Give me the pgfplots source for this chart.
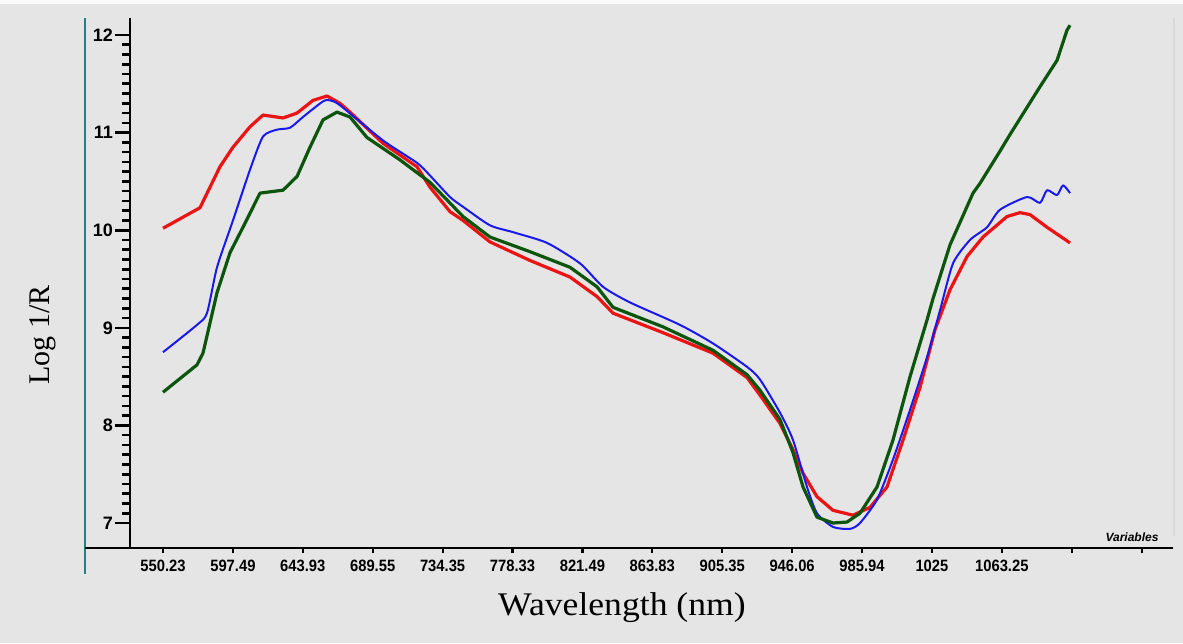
\documentclass[border=0pt]{standalone}
\usepackage{fontspec}
\setmainfont{Liberation Serif}
\newfontfamily\arialfont{Liberation Sans}
\usepackage{pgfplots}
\pgfplotsset{compat=1.18}
\definecolor{bg}{RGB}{229,229,229}
\definecolor{tealline}{RGB}{30,130,140}
\definecolor{cred}{RGB}{235,20,20}
\definecolor{cblue}{RGB}{25,25,235}
\definecolor{cgreen}{RGB}{12,85,12}

\begin{document}
\begin{tikzpicture}
\fill[bg] (0,0) rectangle (591.5pt,-321.5pt);
\fill[white!96!gray] (0,0) rectangle (591.5pt,-2pt);
\draw[tealline, line width=1pt] (42.5pt,-9pt) -- (42.5pt,-287pt);
\draw[black!15, line width=0.6pt] (587pt,-9pt) -- (587pt,-268pt);
\draw[black, line width=1pt] (42.5pt,-274pt) -- (65pt,-274pt);
% minor y ticks
\begin{axis}[at={(65pt,-274pt)}, anchor=south west, scale only axis,
 width=521.5pt, height=265pt,
 xmin=-0.472, xmax=14.449, ymin=6.744, ymax=12.174,
 axis x line=none, axis y line*=left,
 axis line style={-, line width=1pt},
 xtick=\empty,
 ytick={7.1,7.2,7.3,7.4,7.5,7.6,7.7,7.8,7.9,8.1,8.2,8.3,8.4,8.5,8.6,8.7,8.8,8.9,9.1,9.2,9.3,9.4,9.5,9.6,9.7,9.8,9.9,10.1,10.2,10.3,10.4,10.5,10.6,10.7,10.8,10.9,11.1,11.2,11.3,11.4,11.5,11.6,11.7,11.8,11.9},
 yticklabels={},
 tick align=outside, major tick length=4pt,
 tick style={black, line width=1.3pt}]
\end{axis}
\begin{axis}[at={(65pt,-274pt)}, anchor=south west, scale only axis,
 width=521.5pt, height=265pt,
 xmin=-0.472, xmax=14.449, ymin=6.744, ymax=12.174,
 axis x line*=bottom, axis y line*=left,
 axis line style={-, line width=1pt},
 xtick=\empty, ytick={7,8,9,10,11,12},
 tick align=outside, major tick length=7.5pt,
 tick style={black, line width=1.3pt},
 yticklabel style={font=\arialfont\bfseries\fontsize{9}{10}\selectfont, xshift=2.5pt},
 /pgf/number format/assume math mode=true,
 clip=false]
\addplot[cred, line width=1.6pt, line join=round] table {
x y
0 10.02
0.529 10.23
0.815 10.65
1.001 10.85
1.245 11.06
1.431 11.18
1.717 11.15
1.917 11.20
2.146 11.33
2.346 11.375
2.532 11.30
2.675 11.21
3.147 10.89
3.634 10.65
3.820 10.44
4.106 10.19
4.292 10.10
4.678 9.88
5.250 9.69
5.823 9.52
6.209 9.32
6.438 9.15
7.153 8.95
7.868 8.74
8.355 8.49
8.541 8.31
8.827 8.02
9.013 7.75
9.156 7.51
9.356 7.27
9.585 7.13
9.871 7.08
10.114 7.16
10.358 7.37
10.587 7.85
10.830 8.39
11.044 8.98
11.259 9.39
11.502 9.73
11.731 9.93
12.074 10.14
12.260 10.18
12.403 10.16
12.647 10.03
12.976 9.87
};
\addplot[cblue, line width=1pt, line join=round, smooth, tension=0.4] table {
x y
0 8.75
0.486 9.03
0.629 9.15
0.773 9.62
1.001 10.10
1.245 10.62
1.431 10.96
1.631 11.03
1.817 11.05
2.003 11.16
2.289 11.32
2.389 11.33
2.532 11.28
3.147 10.92
3.634 10.69
3.820 10.56
4.106 10.34
4.292 10.24
4.678 10.05
5.007 9.98
5.494 9.87
5.966 9.66
6.295 9.42
6.681 9.26
7.396 9.03
7.868 8.84
8.355 8.60
8.541 8.47
8.827 8.13
9.013 7.85
9.213 7.37
9.356 7.10
9.585 6.96
9.828 6.94
9.971 7.00
10.215 7.24
10.443 7.65
10.687 8.16
10.930 8.70
11.116 9.18
11.302 9.66
11.545 9.90
11.788 10.03
11.974 10.21
12.361 10.34
12.546 10.28
12.647 10.41
12.790 10.36
12.876 10.46
12.976 10.38
};
\addplot[cgreen, line width=1.6pt, line join=round] table {
x y
0 8.34
0.486 8.62
0.572 8.74
0.773 9.36
0.959 9.77
1.144 10.03
1.388 10.38
1.717 10.41
1.917 10.55
2.103 10.85
2.289 11.13
2.489 11.21
2.675 11.16
2.918 10.95
3.391 10.72
3.820 10.49
4.292 10.14
4.678 9.93
5.250 9.78
5.823 9.62
6.209 9.42
6.438 9.21
7.153 9.01
7.868 8.77
8.355 8.52
8.541 8.36
8.827 8.06
9.013 7.72
9.156 7.37
9.356 7.06
9.585 7.00
9.785 7.01
9.971 7.10
10.215 7.37
10.443 7.85
10.687 8.50
10.930 9.08
11.016 9.30
11.259 9.85
11.588 10.38
11.688 10.48
11.974 10.81
12.117 10.98
12.546 11.47
12.790 11.74
12.933 12.05
12.976 12.10
};
\end{axis}
\begin{axis}[at={(65pt,-274pt)}, anchor=south west, scale only axis,
 width=521.5pt, height=265pt,
 xmin=-0.472, xmax=14.449, ymin=6.744, ymax=12.174,
 axis x line*=bottom, axis y line=none,
 axis line style={-, line width=1pt},
 ytick=\empty, xtick={0,1,...,14},
 xticklabels={550.23,597.49,643.93,689.55,734.35,778.33,821.49,863.83,905.35,946.06,985.94,1025,1063.25,,},
 tick align=outside, major tick length=2.5pt,
 tick style={black, line width=1.1pt},
 xticklabel style={font=\arialfont\bfseries\fontsize{8.2}{9}\selectfont, xscale=0.9}]
\end{axis}
\node[rotate=90, font=\fontsize{15}{18}\selectfont] at (21.5pt,-167.5pt) {Log 1/R};
\node[font=\fontsize{16.5}{20}\selectfont, xscale=1.08] at (311pt,-304pt) {Wavelength (nm)};
\node[font=\arialfont\bfseries\itshape\fontsize{6}{7}\selectfont] at (566pt,-268.5pt) {Variables};
\end{tikzpicture}
\end{document}
